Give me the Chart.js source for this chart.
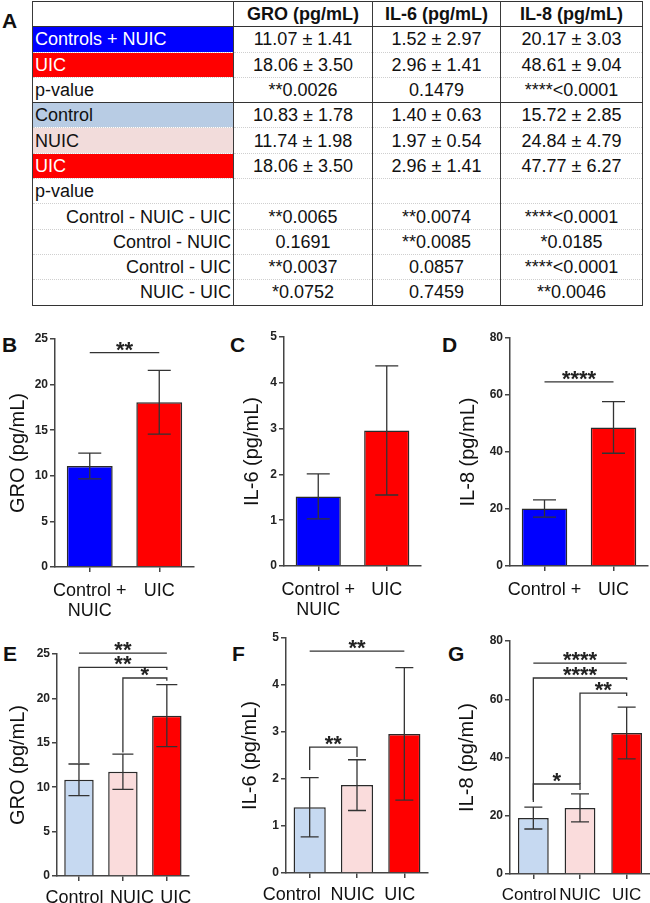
<!DOCTYPE html>
<html>
<head>
<meta charset="utf-8">
<script src="https://cdn.jsdelivr.net/npm/chart.js@4.4.1/dist/chart.umd.min.js"></script>
<style>
  body { margin:0; width:650px; height:903px; background:#fff; position:relative; overflow:hidden;
         font-family:"Liberation Sans", Arial, sans-serif; color:#111; }
  .letter { position:absolute; font-weight:bold; font-size:21px; line-height:1; color:#111; }
  #tbl { position:absolute; left:32px; top:1px; width:610px; border-collapse:collapse; table-layout:fixed;
         font-size:18px; border:1.5px solid #333; }
  #tbl td, #tbl th { height:24.3px; padding:0; line-height:24px; text-align:center; white-space:nowrap; overflow:hidden;
         border-left:1.5px solid #3a3a3a; border-right:1.5px solid #3a3a3a;
         border-top:1px dotted #cfcfcf; border-bottom:1px dotted #cfcfcf; }
  #tbl th { font-weight:bold; border-bottom:1.5px solid #333; }
  #tbl tr.split td { border-bottom:1.5px solid #333; }
  #tbl td.lab { text-align:left; padding-left:2px; }
  #tbl td.sub { text-align:right; padding-right:2px; }
  #tbl td.blue { background:#0000ff; color:#fff; }
  #tbl td.red { background:#ff0000; color:#fff; }
  #tbl td.lblue { background:#b8cce4; }
  #tbl td.pink { background:#f2dcdb; }
</style>
</head>
<body>
<table id="tbl"></table>
<div class="letter" style="left:2px;top:10px">A</div>
<div class="letter" style="left:2px;top:334px">B</div>
<div class="letter" style="left:230px;top:334px">C</div>
<div class="letter" style="left:442px;top:334px">D</div>
<div class="letter" style="left:3px;top:643px">E</div>
<div class="letter" style="left:232px;top:643px">F</div>
<div class="letter" style="left:448px;top:643px">G</div>
<script>
// --- table A ---
const tableHeader = ['', 'GRO (pg/mL)', 'IL-6 (pg/mL)', 'IL-8 (pg/mL)'];
const rowLabels = ['Controls + NUIC', 'UIC', 'p-value', 'Control', 'NUIC', 'UIC', 'p-value',
  'Control - NUIC - UIC', 'Control - NUIC', 'Control - UIC', 'NUIC - UIC'];
const groValues = ['11.07 ± 1.41', '18.06 ± 3.50', '**0.0026', '10.83 ± 1.78', '11.74 ± 1.98', '18.06 ± 3.50', '',
  '**0.0065', '0.1691', '**0.0037', '*0.0752'];
const il6Values = ['1.52 ± 2.97', '2.96 ± 1.41', '0.1479', '1.40 ± 0.63', '1.97 ± 0.54', '2.96 ± 1.41', '',
  '**0.0074', '**0.0085', '0.0857', '0.7459'];
const il8Values = ['20.17 ± 3.03', '48.61 ± 9.04', '****<0.0001', '15.72 ± 2.85', '24.84 ± 4.79', '47.77 ± 6.27', '',
  '****<0.0001', '*0.0185', '****<0.0001', '**0.0046'];

// --- bar charts ---
const twoGroups = [['Control +', 'NUIC'], 'UIC'];
const twoGroupsD = ['Control +', 'UIC'];
const threeGroups = ['Control', 'NUIC', 'UIC'];

const groTwoMean = [11.07, 18.06];
const groTwoSd = [1.41, 3.50];
const il6TwoMean = [1.52, 2.96];
const il6TwoSd = [0.49, 1.41];
const il8TwoMean = [20.17, 48.61];
const il8TwoSd = [3.03, 9.04];

const groThreeMean = [10.83, 11.74, 18.06];
const groThreeSd = [1.78, 1.98, 3.50];
const il6ThreeMean = [1.40, 1.87, 2.96];
const il6ThreeSd = [0.63, 0.54, 1.41];
const il8ThreeMean = [19.2, 22.7, 48.4];
const il8ThreeSd = [3.75, 4.8, 8.9];

// significance bars: from/to group index, height (data units), optional leg ends
const sigB = [{ from: 0, to: 1, y: 23.5, text: '**' }];
const sigC = [];
const sigD = [{ from: 0, to: 1, y: 64.6, text: '****' }];
const sigE = [
  { from: 0, to: 2, y: 25.1, text: '**' },
  { from: 0, to: 2, y: 23.5, text: '**', left: 12.7, right: 23.2 },
  { from: 1, to: 2, y: 22.3, text: '*', left: 13.9, right: 22.0 }
];
const sigF = [
  { from: 0, to: 2, y: 4.72, text: '**' },
  { from: 0, to: 1, y: 2.68, text: '**', left: 2.19, right: 2.47 }
];
const sigG = [
  { from: 0, to: 2, y: 72.4, text: '****' },
  { from: 0, to: 2, y: 67.3, text: '****', left: 24.7, right: 66.6 },
  { from: 1, to: 2, y: 62.1, text: '**', left: 30.9, right: 61.1 },
  { from: 0, to: 1, y: 30.9, text: '*', left: 25.4, right: 28.8 }
];

const twoColors = ['#0000ff', '#ff0000'];
const threeColors = ['#c6d9f1', '#fadcdc', '#ff0000'];

// build table
const tbl = document.getElementById('tbl');
const colW = [201, 139, 128, 142];
const cg = document.createElement('colgroup');
colW.forEach(w => { const c = document.createElement('col'); c.style.width = w + 'px'; cg.appendChild(c); });
tbl.appendChild(cg);
const hr = tbl.insertRow();
tableHeader.forEach(h => { const th = document.createElement('th'); th.textContent = h; hr.appendChild(th); });
const labelClass = ['lab blue', 'lab red', 'lab', 'lab lblue', 'lab pink', 'lab red', 'lab', 'sub', 'sub', 'sub', 'sub'];
rowLabels.forEach((lab, i) => {
  const tr = tbl.insertRow();
  if (i === 2) tr.className = 'split';
  const c0 = tr.insertCell(); c0.textContent = lab; c0.className = labelClass[i];
  [groValues[i], il6Values[i], il8Values[i]].forEach(v => { tr.insertCell().textContent = v; });
});

const fam = '"Liberation Sans", Arial, sans-serif';
Chart.defaults.font.family = fam;

// nudge a tick label sideways with en spaces (n > 0 right, n < 0 left)
function nudge(label, n) {
  if (!n) return label;
  const sp = '\u2002'.repeat(Math.abs(n));
  return n > 0 ? sp + label : label + sp;
}

function marks(sd, sigs, cap) {
  return {
    id: 'marks',
    afterDatasetsDraw(chart) {
      const ctx = chart.ctx;
      const bars = chart.getDatasetMeta(0).data;
      const ys = chart.scales.y;
      const means = chart.data.datasets[0].data;
      ctx.save();
      ctx.strokeStyle = '#333';
      ctx.lineWidth = 1.3;
      bars.forEach((bar, i) => {
        const hi = ys.getPixelForValue(means[i] + sd[i]);
        const lo = ys.getPixelForValue(means[i] - sd[i]);
        ctx.beginPath();
        ctx.moveTo(bar.x, hi); ctx.lineTo(bar.x, lo);
        ctx.moveTo(bar.x - cap / 2, hi); ctx.lineTo(bar.x + cap / 2, hi);
        ctx.moveTo(bar.x - cap / 2, lo); ctx.lineTo(bar.x + cap / 2, lo);
        ctx.stroke();
      });
      ctx.fillStyle = '#222';
      ctx.font = 'bold 22px ' + fam;
      ctx.textAlign = 'center';
      ctx.textBaseline = 'alphabetic';
      sigs.forEach(s => {
        const x1 = bars[s.from].x, x2 = bars[s.to].x;
        const y = ys.getPixelForValue(s.y);
        ctx.beginPath();
        if (s.left !== undefined) { ctx.moveTo(x1, ys.getPixelForValue(s.left)); ctx.lineTo(x1, y); }
        else ctx.moveTo(x1, y);
        ctx.lineTo(x2, y);
        if (s.right !== undefined) ctx.lineTo(x2, ys.getPixelForValue(s.right));
        ctx.stroke();
        ctx.fillText(s.text, (x1 + x2) / 2, y + 4);
      });
      ctx.restore();
    }
  };
}

function panel(p) {
  const a = p.area;
  const left = a.l - p.yW, top = a.t - p.padTop;
  const width = a.r + p.padRight - left, height = a.b + p.xH - top;
  const cv = document.createElement('canvas');
  cv.width = width; cv.height = height;
  cv.style.cssText = 'position:absolute;left:' + left + 'px;top:' + top + 'px;width:' + width + 'px;height:' + height + 'px';
  document.body.appendChild(cv);
  const labels = p.labels.map((l, i) => p.shift ? nudge(l, p.shift[i]) : l);
  new Chart(cv, {
    type: 'bar',
    data: {
      labels: labels,
      datasets: [{
        data: p.mean,
        backgroundColor: p.colors,
        borderColor: '#2a2a2a',
        borderWidth: 1.5,
        barPercentage: p.barPct,
        categoryPercentage: 1
      }]
    },
    options: {
      responsive: false,
      animation: false,
      devicePixelRatio: 1,
      layout: { padding: { left: 0, top: p.padTop, right: p.padRight, bottom: 0 } },
      plugins: { legend: { display: false }, tooltip: { enabled: false } },
      scales: {
        x: {
          grid: { drawOnChartArea: false, offset: false, tickLength: 5, color: '#444', lineWidth: 1.5 },
          border: { color: '#444', width: 1.5 },
          ticks: { color: '#111', font: { size: p.xFont, lineHeight: 1.1 }, padding: p.xPad, maxRotation: 0, autoSkip: false },
          afterFit(s) { s.height = p.xH; }
        },
        y: {
          min: 0, max: p.max,
          ticks: { stepSize: p.step, color: '#222', font: { size: 12, weight: 'bold' }, padding: 2 },
          grid: { drawOnChartArea: false, tickLength: 5, color: '#444', lineWidth: 1.5 },
          border: { color: '#444', width: 1.5 },
          title: { display: true, text: p.title, color: '#111', font: { size: 20 }, padding: { top: 4, bottom: 0 } },
          afterFit(s) { s.width = p.yW; }
        }
      }
    },
    plugins: [marks(p.sd, p.sigs, p.cap)]
  });
}

panel({ area: { l: 55, t: 339, r: 194, b: 567 }, yW: 53, padTop: 20, padRight: 10, xH: 60, xPad: 9,
  labels: twoGroups, mean: groTwoMean, sd: groTwoSd, sigs: sigB, colors: twoColors,
  max: 25, step: 5, title: 'GRO (pg/mL)', barPct: 0.66, cap: 23, xFont: 18 });
panel({ area: { l: 284, t: 337, r: 421, b: 566 }, yW: 48, padTop: 20, padRight: 10, xH: 60, xPad: 9,
  labels: twoGroups, mean: il6TwoMean, sd: il6TwoSd, sigs: sigC, colors: twoColors,
  max: 5, step: 1, title: 'IL-6 (pg/mL)', barPct: 0.66, cap: 23, xFont: 18 });
panel({ area: { l: 510, t: 338, r: 648, b: 566 }, yW: 58, padTop: 20, padRight: 2, xH: 60, xPad: 9,
  labels: twoGroupsD, mean: il8TwoMean, sd: il8TwoSd, sigs: sigD, colors: twoColors,
  max: 80, step: 20, title: 'IL-8 (pg/mL)', barPct: 0.66, cap: 23, xFont: 18 });
panel({ area: { l: 57, t: 654, r: 190, b: 876 }, yW: 55, padTop: 30, padRight: 10, xH: 27, xPad: 7,
  labels: threeGroups, shift: [-1, 2, 2], mean: groThreeMean, sd: groThreeSd, sigs: sigE, colors: threeColors,
  max: 25, step: 5, title: 'GRO (pg/mL)', barPct: 0.67, cap: 21, xFont: 18 });
panel({ area: { l: 286, t: 638, r: 428, b: 873 }, yW: 52, padTop: 20, padRight: 6, xH: 30, xPad: 7,
  labels: threeGroups, shift: [-4, -1, -1], mean: il6ThreeMean, sd: il6ThreeSd, sigs: sigF, colors: threeColors,
  max: 5, step: 1, title: 'IL-6 (pg/mL)', barPct: 0.68, cap: 18, xFont: 18 });
panel({ area: { l: 510, t: 641, r: 650, b: 874 }, yW: 59, padTop: 25, padRight: 0, xH: 29, xPad: 7,
  labels: threeGroups, shift: [-1, 0, 0], mean: il8ThreeMean, sd: il8ThreeSd, sigs: sigG, colors: threeColors,
  max: 80, step: 20, title: 'IL-8 (pg/mL)', barPct: 0.66, cap: 18, xFont: 17 });
</script>
</body>
</html>
